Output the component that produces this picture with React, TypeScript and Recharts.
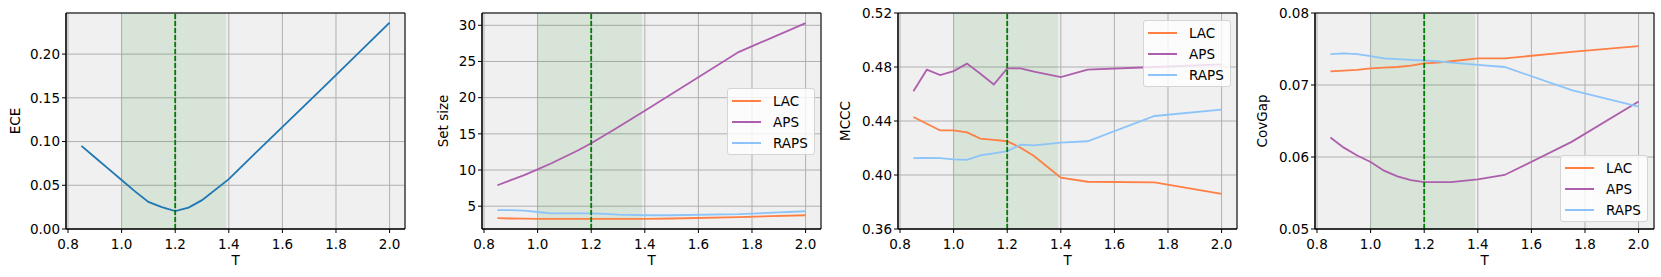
import React from 'react';
import { LineChart, Line, XAxis, YAxis, CartesianGrid, ReferenceArea, ReferenceLine, Legend, Label } from 'recharts';

const T = [0.85, 0.9, 0.95, 1.0, 1.05, 1.1, 1.15, 1.2, 1.25, 1.3, 1.4, 1.5, 1.75, 2.0];
const xTicks = [0.8, 1.0, 1.2, 1.4, 1.6, 1.8, 2.0];

const ece = [0.095, 0.082, 0.069, 0.056, 0.043, 0.031, 0.025, 0.0205, 0.0245, 0.033, 0.057, 0.087, 0.161, 0.236];

const setLAC = [3.35, 3.3, 3.28, 3.25, 3.25, 3.25, 3.25, 3.25, 3.25, 3.25, 3.25, 3.3, 3.5, 3.75];
const setAPS = [7.9, 8.6, 9.3, 10.1, 10.9, 11.8, 12.7, 13.7, 14.8, 15.9, 18.2, 20.5, 26.3, 30.3];
const setRAPS = [4.45, 4.45, 4.4, 4.2, 4.0, 4.0, 4.0, 4.0, 3.95, 3.85, 3.75, 3.75, 3.9, 4.3];

const mcccLAC = [0.443, 0.438, 0.433, 0.433, 0.4315, 0.427, 0.426, 0.425, 0.4202, 0.414, 0.398, 0.395, 0.3945, 0.386];
const mcccAPS = [0.462, 0.478, 0.474, 0.477, 0.4825, 0.475, 0.467, 0.479, 0.479, 0.4765, 0.4725, 0.478, 0.48, 0.482];
const mcccRAPS = [0.4125, 0.4127, 0.4125, 0.4115, 0.4112, 0.4145, 0.416, 0.4177, 0.4225, 0.422, 0.424, 0.425, 0.4437, 0.4484];

const covLAC = [0.0719, 0.072, 0.0721, 0.0723, 0.0724, 0.0725, 0.0727, 0.073, 0.0731, 0.0733, 0.0737, 0.0737, 0.0746, 0.0754];
const covAPS = [0.0627, 0.0613, 0.0602, 0.0593, 0.0581, 0.0573, 0.0568, 0.0565, 0.0565, 0.0565, 0.0569, 0.0575, 0.0621, 0.0677];
const covRAPS = [0.0743, 0.0744, 0.0743, 0.074, 0.0737, 0.0736, 0.0735, 0.0734, 0.0733, 0.0731, 0.0728, 0.0725, 0.0693, 0.067];

const FONT = '"DejaVu Sans", sans-serif';
const FS = 13.5;
const X_DOMAIN: [number, number] = [0.7925, 2.0575];
const COLORS: Record<string, string> = { ECE: '#1f77b4', LAC: '#ff7f45', APS: '#ad5fad', RAPS: '#8cc4fa' };
const ORDER = ['LAC', 'APS', 'RAPS'];

type Series = { name: string; values: number[] };

interface PanelProps {
  left: number;
  yLabel: string;
  labelDx: number;
  yDomain: [number, number];
  yTicks: number[];
  yFmt: (v: number) => string;
  series: Series[];
  legendTop?: number;
}

const LegendBox = ({ payload }: any) => {
  const items = [...(payload || [])].sort((a: any, b: any) => ORDER.indexOf(a.value) - ORDER.indexOf(b.value));
  return (
    <div style={{ background: 'rgba(255,255,255,0.8)', border: '1px solid #d4d4d4', borderRadius: 3, padding: '1px 6px 1px 4px', fontFamily: FONT, fontSize: FS, color: '#000' }}>
      {items.map((p: any) => (
        <div key={p.value} style={{ display: 'flex', alignItems: 'center', height: 21 }}>
          <span style={{ display: 'inline-block', width: 29, height: 2, background: p.color, marginRight: 12 }} />
          <span>{p.value}</span>
        </div>
      ))}
    </div>
  );
};

const Panel: React.FC<PanelProps> = ({ left, yLabel, labelDx, yDomain, yTicks, yFmt, series, legendTop }) => {
  const rows = T.map((t, i) => {
    const r: any = { t };
    series.forEach(s => { r[s.name] = s.values[i]; });
    return r;
  });
  return (
    <div style={{ position: 'absolute', left: left - 66, top: 0 }}>
      <LineChart width={413} height={277} data={rows} margin={{ top: 13, right: 8, bottom: 0, left: 0 }}>
        <CartesianGrid stroke="#b0b0b0" fill="#f0f0f0" strokeWidth={1} />
        <ReferenceArea x1={1.0} x2={1.39} fill="green" fillOpacity={0.1} stroke="none" />
        <XAxis dataKey="t" type="number" domain={X_DOMAIN} ticks={xTicks} allowDataOverflow interval={0}
          tickFormatter={(v: number) => v.toFixed(1)} height={48} tickSize={4} tickMargin={6}
          stroke="#000" tick={{ fill: '#000', fontSize: FS, fontFamily: FONT }}>
          <Label content={(p: any) => {
            const vb = p.viewBox;
            return <text x={vb.x + vb.width / 2} y={vb.y + 31} textAnchor="middle" dominantBaseline="central" fontSize={FS} fontFamily={FONT} fill="#000">T</text>;
          }} />
        </XAxis>
        <YAxis type="number" domain={yDomain} ticks={yTicks} allowDataOverflow interval={0} width={66}
          tickFormatter={yFmt} tickSize={4} tickMargin={2} stroke="#000"
          tick={{ fill: '#000', fontSize: FS, fontFamily: FONT }}>
          <Label content={(p: any) => {
            const vb = p.viewBox;
            const x = vb.x + vb.width + labelDx;
            const y = vb.y + vb.height / 2;
            return <text x={x} y={y} transform={`rotate(-90 ${x} ${y})`} textAnchor="middle" dominantBaseline="central" fontSize={FS} fontFamily={FONT} fill="#000">{yLabel}</text>;
          }} />
        </YAxis>
        {series.map(s => (
          <Line key={s.name} dataKey={s.name} name={s.name} type="linear" stroke={COLORS[s.name]} strokeWidth={1.8}
            dot={false} activeDot={false} isAnimationActive={false} />
        ))}
        <ReferenceLine x={1.2} stroke="#008000" strokeDasharray="5 2" strokeWidth={1.8} />
        <ReferenceArea x1={X_DOMAIN[0]} x2={X_DOMAIN[1]} y1={yDomain[0]} y2={yDomain[1]} fill="none" stroke="#000" strokeWidth={1} />
        {legendTop !== undefined && (
          <Legend layout="horizontal" verticalAlign="middle" align="center" content={<LegendBox />}
            wrapperStyle={{ left: 311, top: legendTop, width: 'auto' }} />
        )}
      </LineChart>
    </div>
  );
};

export default function App() {
  return (
    <div style={{ position: 'absolute', left: 0, top: 0, width: 1661, height: 277, background: '#fff', fontFamily: FONT }}>
      <Panel left={66} yLabel="ECE" labelDx={-51} yDomain={[0, 0.247]} yTicks={[0, 0.05, 0.1, 0.15, 0.2]}
        yFmt={v => v.toFixed(2)} series={[{ name: 'ECE', values: ece }]} />
      <Panel left={482} yLabel="Set size" labelDx={-39} yDomain={[1.85, 31.7]} yTicks={[5, 10, 15, 20, 25, 30]}
        yFmt={v => String(v)} legendTop={88}
        series={[{ name: 'LAC', values: setLAC }, { name: 'APS', values: setAPS }, { name: 'RAPS', values: setRAPS }]} />
      <Panel left={898} yLabel="MCCC" labelDx={-53} yDomain={[0.36, 0.52]} yTicks={[0.36, 0.4, 0.44, 0.48, 0.52]}
        yFmt={v => v.toFixed(2)} legendTop={20}
        series={[{ name: 'LAC', values: mcccLAC }, { name: 'APS', values: mcccAPS }, { name: 'RAPS', values: mcccRAPS }]} />
      <Panel left={1315} yLabel="CovGap" labelDx={-53} yDomain={[0.05, 0.08]} yTicks={[0.05, 0.06, 0.07, 0.08]}
        yFmt={v => v.toFixed(2)} legendTop={155}
        series={[{ name: 'LAC', values: covLAC }, { name: 'APS', values: covAPS }, { name: 'RAPS', values: covRAPS }]} />
    </div>
  );
}
